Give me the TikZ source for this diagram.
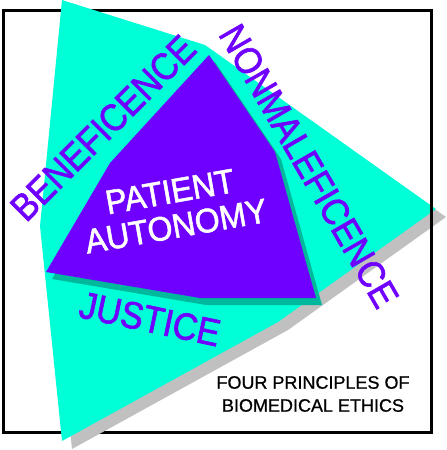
\documentclass[tikz,border=0pt]{standalone}
\usepackage{fontspec}
\setmainfont{Liberation Sans}
\newfontfamily\heavyfont[FakeBold=1.6,FakeStretch=0.9]{Liberation Sans}
\newfontfamily\centfont[FakeBold=1.6,FakeStretch=0.94]{Liberation Sans}
\newfontfamily\medfont[FakeBold=0.8]{Liberation Sans}
\definecolor{cy}{RGB}{0,255,214}
\definecolor{purp}{RGB}{111,0,255}
\definecolor{dteal}{RGB}{0,184,156}
\definecolor{shgray}{RGB}{192,192,192}
\tikzset{
  framestyle/.style={line width=3pt, black},
  biglabel/.style={text=purp, inner sep=0pt, font=\heavyfont\fontsize{38}{38}\selectfont},
  centerlabel/.style={text=white, inner sep=0pt, align=center, font=\centfont\fontsize{34}{35}\selectfont},
  caption/.style={text=black, inner sep=0pt, align=center, font=\medfont\fontsize{18}{23}\selectfont}
}
\begin{document}
\begin{tikzpicture}[x=1pt,y=-1pt]
\useasboundingbox (0,0) rectangle (447,450);
\draw[framestyle] (3,10) rectangle (431,432);
\fill[shgray,shift={(10,8)}] (62,0) -- (205,45) -- (436,209) -- (278,322) -- (62,441) -- (40,226) -- cycle;
\fill[cy] (62,0) -- (205,45) -- (436,209) -- (278,322) -- (62,441) -- (40,226) -- cycle;
\draw[framestyle] (431,10) -- (431,432);
\fill[dteal,shift={(6,7)}] (209,55) -- (275,152) -- (316,298) -- (200,298) -- (46,272) -- (110,163) -- cycle;
\fill[purp] (209,55) -- (275,152) -- (316,298) -- (200,298) -- (46,272) -- (110,163) -- cycle;
\node[centerlabel, rotate=10] (auto) at (173,209) {PATIENT\\AUTONOMY};
\node[biglabel, rotate=45] (bene) at (103,128) {BENEFICENCE};
\node[biglabel, rotate=-60] (nonm) at (309,166) {NONMALEFICENCE};
\node[biglabel, rotate=-12] (just) at (150,319) {JUSTICE};
\node[caption] (cap) at (313,394) {FOUR PRINCIPLES OF\\BIOMEDICAL ETHICS};
\end{tikzpicture}
\end{document}
